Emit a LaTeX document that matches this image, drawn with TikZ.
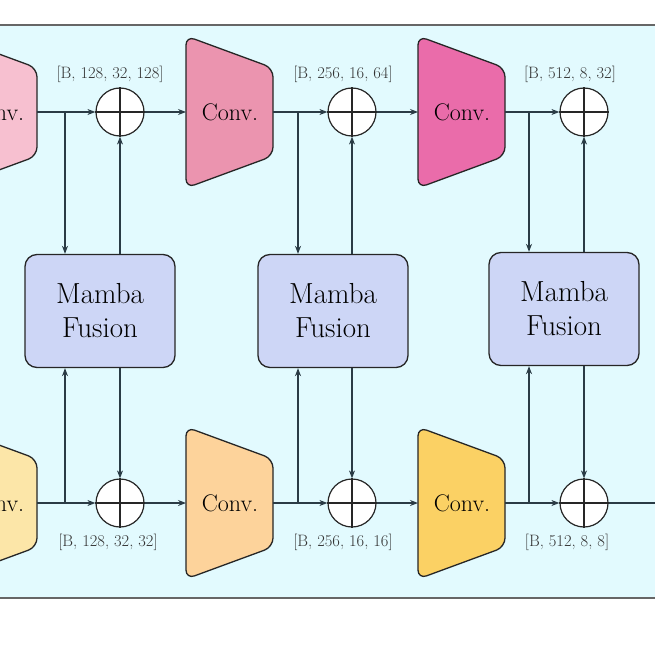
\documentclass[tikz,border=0pt]{standalone}
\usetikzlibrary{arrows.meta}
\definecolor{bgc}{HTML}{E2FAFE}
\definecolor{pA}{HTML}{F7C0D0}
\definecolor{pB}{HTML}{EB94AF}
\definecolor{pC}{HTML}{EA6CAA}
\definecolor{yA}{HTML}{FCE6A8}
\definecolor{yB}{HTML}{FDD39B}
\definecolor{yC}{HTML}{FBD164}
\definecolor{mb}{HTML}{CDD6F6}
\definecolor{ln}{HTML}{2A3B45}
\begin{document}
\begin{tikzpicture}[x=1pt,y=-1pt,
  conv/.style={draw=black!85,line width=1.3pt,rounded corners=9pt},
  ctext/.style={font=\fontsize{24}{26}\selectfont},
  dims/.style={font=\fontsize{16.5}{18}\selectfont,text=black!80},
  mamba/.style={draw=black!85,fill=mb,line width=1.3pt,rounded corners=12pt,minimum width=150pt,minimum height=113pt,align=center,font=\fontsize{29}{34}\selectfont},
  oplus/.style={circle,draw=black!85,fill=white,line width=1.2pt,minimum size=48pt,inner sep=0pt},
  con/.style={draw=ln,line width=1.2pt,-{Stealth[length=8pt,width=6pt]}},
  pl/.style={draw=ln,line width=1.2pt}]
\useasboundingbox (0,0) rectangle (655,655);
\clip (0,0) rectangle (655,655);
\draw[fill=bgc,draw=black!60,line width=2pt] (-10,25) rectangle (665,598);
% trapezoids
\foreach \x/\c/\yc in {-50/pA/112,186/pB/112,418/pC/112,-50/yA/503,186/yB/503,418/yC/503}{
  \draw[conv,fill=\c] (\x,\yc-76) -- (\x+87,\yc-44) -- (\x+87,\yc+44) -- (\x,\yc+76) -- cycle;
}
\node[ctext] (t1) at (-4,112) {Conv.};
\node[ctext] (t2) at (230,112) {Conv.};
\node[ctext] (t3) at (462,112) {Conv.};
\node[ctext] (b1) at (-4,503) {Conv.};
\node[ctext] (b2) at (230,503) {Conv.};
\node[ctext] (b3) at (462,503) {Conv.};
\coordinate (t1o) at (37,112); \coordinate (t2i) at (186,112); \coordinate (t2o) at (273,112);
\coordinate (t3i) at (418,112); \coordinate (t3o) at (505,112);
\coordinate (b1o) at (37,503); \coordinate (b2i) at (186,503); \coordinate (b2o) at (273,503);
\coordinate (b3i) at (418,503); \coordinate (b3o) at (505,503);
\coordinate (end) at (660,503);
% plus nodes
\node[oplus] (pt1) at (120,112) {}; \node[oplus] (pt2) at (352,112) {}; \node[oplus] (pt3) at (584,112) {};
\node[oplus] (pb1) at (120,503) {}; \node[oplus] (pb2) at (352,503) {}; \node[oplus] (pb3) at (584,503) {};
\foreach \p in {pt1,pt2,pt3,pb1,pb2,pb3}{
  \draw[line width=1.1pt,black!85] (\p.north) -- (\p.south) (\p.west) -- (\p.east);}
% mamba
\node[mamba] (m1) at (100,311) {Mamba\\Fusion};
\node[mamba] (m2) at (333,311) {Mamba\\Fusion};
\node[mamba] (m3) at (564,309) {Mamba\\Fusion};
% labels
\node[dims] at (110,74) {[B, 128, 32, 128]};
\node[dims] at (343,74) {[B, 256, 16, 64]};
\node[dims] at (570,74) {[B, 512, 8, 32]};
\node[dims] at (108,542) {[B, 128, 32, 32]};
\node[dims] at (343,542) {[B, 256, 16, 16]};
\node[dims] at (567,542) {[B, 512, 8, 8]};
% connectors
\foreach \a/\p/\m/\bx in {t1o/pt1/m1/65,t2o/pt2/m2/298,t3o/pt3/m3/529}{
  \coordinate (st) at (\bx,112);
  \draw[con] (\a) -- (\p.west);
  \draw[con] (st) -- (st |- \m.north);
  \draw[con] (\p.south |- \m.north) -- (\p.south);
}
\draw[con] (pt1.east) -- (t2i);
\draw[con] (pt2.east) -- (t3i);
\foreach \a/\p/\m/\bx in {b1o/pb1/m1/65,b2o/pb2/m2/298,b3o/pb3/m3/529}{
  \coordinate (sb) at (\bx,503);
  \draw[con] (\a) -- (\p.west);
  \draw[con] (sb) -- (sb |- \m.south);
  \draw[con] (\p.north |- \m.south) -- (\p.north);
}
\draw[con] (pb1.east) -- (b2i);
\draw[con] (pb2.east) -- (b3i);
\draw[pl] (pb3.east) -- (end);
\end{tikzpicture}
\end{document}
